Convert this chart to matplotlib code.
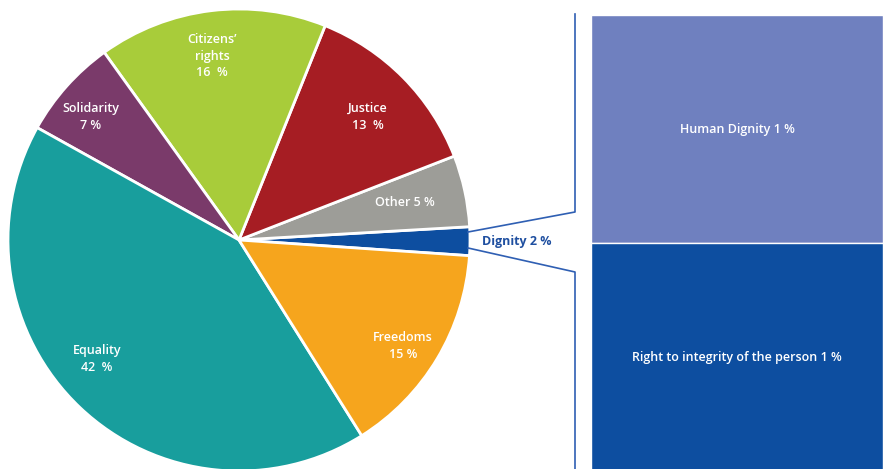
import numpy as np
import matplotlib
matplotlib.use("Agg")
import matplotlib.pyplot as plt

# datos del grafico
categorias = ["Dignity", "Other", "Justice", "Citizens’\nrights", "Solidarity", "Equality", "Freedoms"]
valores = [2, 5, 13, 16, 7, 42, 15]
etiquetas = ["", "Other 5 %", "Justice\n13  %", "Citizens’\nrights\n16  %", "Solidarity\n7 %",
             "Equality\n42  %", "Freedoms\n15 %"]
colores = ["#0d4ea0", "#9d9d98", "#a61d23", "#a8cc3a", "#7a3a6a", "#189e9d", "#f6a51d"]

sub_categorias = ["Human Dignity", "Right to integrity of the person"]
sub_valores = [1, 1]
sub_colores = ["#6f80bf", "#0d4ea0"]

# posiciones de etiquetas (pixeles)
pos_etiquetas = [None, (405, 202), (368, 117), (212, 56), (91, 117), (97, 359), (403, 346)]

fig = plt.figure(figsize=(8.83, 4.69), dpi=100)
ax = fig.add_axes([0, 0, 1, 1])

H = 469
cx, cy, r = 239, H - 240, 231
wedges, _ = ax.pie(valores, colors=colores, startangle=-3.9, counterclock=True,
                   center=(cx, cy), radius=r, frame=True,
                   wedgeprops=dict(edgecolor="white", linewidth=2))
ax.set_xlim(0, 883)
ax.set_ylim(0, 469)
ax.set_aspect("equal")
ax.axis("off")

fuente = "Open Sans"
for lab, p in zip(etiquetas, pos_etiquetas):
    if p is None:
        continue
    ax.text(p[0], H - p[1], lab, ha="center", va="center", color="white",
            fontsize=9, family=fuente, fontweight="semibold", linespacing=1.35)

ax.text(517, H - 241, "Dignity 2 %", ha="center", va="center", color="#1f4fa0",
        fontsize=9, family=fuente, fontweight="bold")

# barra apilada
unidad = 228
base = H - 243 - unidad * sub_valores[1]
bottoms = [base + unidad * sub_valores[1], base]
for nom, v, c, b in zip(sub_categorias, sub_valores, sub_colores, bottoms):
    ax.bar(736.5, v * unidad, width=292, bottom=b, color=c, edgecolor="white", linewidth=1)
    ax.text(737, b + v * unidad / 2, f"{nom} {v} %", ha="center", va="center",
            color="white", fontsize=9, family=fuente, fontweight="semibold")

# lineas de conexion
lc = "#2f5fb3"
ax.plot([468, 575, 575], [H - 232, H - 212, H - 14], color=lc, lw=1.2)
ax.plot([468, 575, 575], [H - 248, H - 272, -5], color=lc, lw=1.2)

fig.savefig("out.png", dpi=100)
